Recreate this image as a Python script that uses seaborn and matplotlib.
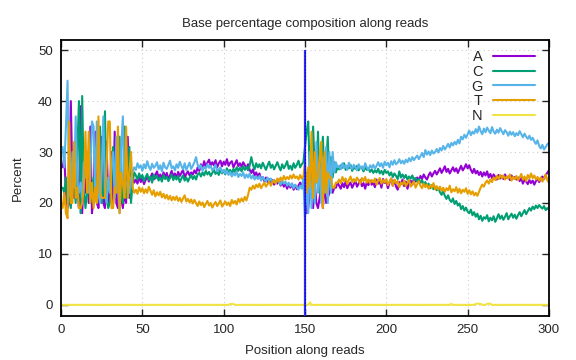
import numpy as np
import pandas as pd
import seaborn as sns
import matplotlib
matplotlib.use("Agg")
import matplotlib.pyplot as plt
from matplotlib.lines import Line2D

# base percentage per read position (1..300)
pct_A = [
    27, 29, 22, 19, 20, 40, 24, 21, 22, 23,
    19, 39, 18, 26, 22, 30, 20, 35, 18, 21,
    34, 20, 19, 23, 33, 20, 19, 32, 20, 22,
    30, 20, 34, 20, 19, 31, 21, 19, 22, 20,
    33, 21, 23, 25, 24, 24.6, 23.8, 25.2, 24.1, 24.9,
    23.7, 24.5, 25.3, 24.2, 25.0, 25.8, 24.6, 25.5, 26.2, 24.9,
    25.6, 24.8, 26.0, 25.1, 25.9, 24.7, 25.4, 26.3, 25.2, 25.8,
    24.9, 26.1, 25.3, 25.9, 26.5, 25.0, 25.7, 26.2, 25.4, 26.0,
    25.6, 26.4, 25.8, 27.0, 26.3, 27.6, 26.8, 28.2, 27.1, 27.9,
    28.5, 27.3, 28.0, 27.4, 28.4, 27.0, 27.8, 28.3, 27.2, 28.1,
    27.5, 28.6, 27.3, 27.9, 28.2, 27.0, 27.7, 28.4, 27.2, 27.8,
    27.1, 28.0, 27.4, 26.8, 27.6, 26.5, 25.9, 26.6, 25.4, 26.0,
    25.2, 25.8, 24.6, 25.1, 24.3, 25.0, 24.1, 24.7, 23.9, 24.5,
    23.6, 24.3, 23.8, 24.6, 23.4, 24.1, 23.2, 23.9, 22.8, 23.7,
    23.0, 23.8, 22.6, 23.5, 22.7, 23.4, 24.0, 23.1, 24.5, 22,
    18, 19, 22, 25, 19, 24, 20, 19, 21, 23,
    19, 24, 20, 21, 22, 24, 22, 23, 23, 24,
    23.4, 22.8, 23.9, 23.1, 24.2, 22.9, 23.6, 24.0, 23.0, 23.7,
    24.3, 23.2, 23.8, 24.5, 23.3, 23.9, 22.8, 24.1, 23.5, 24.4,
    23.6, 24.0, 23.1, 24.6, 23.8, 24.2, 23.0, 24.7, 23.9, 24.3,
    22.9, 24.0, 24.8, 23.4, 24.5, 23.2, 22.6, 24.1, 23.7, 24.6,
    23.3, 24.2, 22.8, 23.9, 24.4, 23.6, 24.8, 24.2, 25.0, 24.5,
    25.3, 24.7, 25.6, 25.0, 24.6, 25.4, 26.0, 25.2, 25.8, 26.3,
    25.6, 26.2, 26.8, 25.9, 26.5, 27.2, 26.1, 26.7, 25.8, 26.4,
    27.0, 26.2, 26.8, 25.9, 26.6, 27.3, 26.4, 26.9, 27.6, 26.8,
    27.4, 26.5, 25.9, 26.7, 25.8, 26.3, 25.5, 26.1, 25.2, 26.0,
    25.4, 26.2, 25.0, 25.7, 24.9, 25.6, 25.1, 24.6, 25.5, 24.8,
    25.3, 24.7, 25.6, 24.9, 25.2, 24.5, 25.4, 24.8, 25.1, 24.6,
    25.0, 24.3, 24.9, 23.8, 24.6, 24.2, 23.7, 24.5, 23.9, 24.4,
    23.6, 24.3, 24.8, 24.1, 24.9, 25.2, 24.7, 25.5, 25.9, 26.4,
]

pct_C = [
    23, 22, 25, 20, 22, 19, 26, 24, 20, 30,
    40, 18, 41, 23, 19, 22, 24, 20, 22, 25,
    21, 24, 22, 35, 20, 22, 38, 21, 19, 20,
    24, 31, 22, 25, 23, 33, 22, 20, 35, 21,
    22, 31, 20, 24, 26, 25.4, 24.6, 25.8, 24.9, 25.5,
    24.3, 25.1, 25.7, 24.5, 25.2, 24.0, 25.6, 24.8, 25.3, 24.4,
    25.0, 24.2, 25.5, 24.7, 25.1, 24.3, 24.9, 25.6, 24.5, 25.2,
    24.6, 25.3, 24.1, 24.8, 25.4, 24.4, 25.0, 24.2, 24.9, 25.5,
    24.7, 25.3, 24.6, 25.6, 25.9, 25.2, 26.0, 25.4, 26.3, 25.6,
    26.1, 25.3, 25.9, 26.5, 25.7, 26.2, 25.5, 26.6, 25.8, 26.4,
    25.6, 26.8, 26.0, 26.5, 25.8, 26.7, 26.1, 27.0, 26.3, 26.9,
    26.2, 27.2, 26.5, 27.1, 26.4, 27.4, 29.0, 27.5, 26.6, 27.8,
    27.0, 27.6, 26.8, 27.9, 27.2, 26.5, 27.4, 28.1, 26.9, 27.5,
    26.6, 27.3, 28.0, 27.1, 26.4, 27.6, 26.8, 27.4, 28.2, 26.7,
    27.3, 26.5, 27.8, 26.9, 27.5, 28.3, 27.0, 27.6, 28.0, 31,
    34, 36, 25, 22, 35, 26, 24, 34, 22, 28,
    33, 24, 27, 33, 23, 29, 25, 28, 26, 27,
    26.6, 27.4, 26.9, 27.8, 26.5, 27.2, 26.8, 27.5, 26.3, 27.0,
    26.7, 27.3, 26.4, 27.1, 26.9, 26.2, 27.0, 26.5, 26.8, 26.1,
    26.6, 25.9, 26.4, 26.0, 26.7, 25.8, 26.3, 25.6, 26.5, 25.9,
    26.2, 25.4, 26.0, 25.1, 25.8, 25.3, 24.7, 26.2, 25.0, 25.6,
    24.9, 25.5, 24.6, 25.2, 24.8, 25.4, 24.5, 24.9, 24.2, 24.7,
    23.9, 24.5, 23.6, 24.1, 23.3, 23.8, 22.9, 23.5, 22.7, 23.2,
    22.5, 22.9, 22.1, 21.6, 22.3, 21.4, 20.8, 21.5, 20.6, 20.2,
    20.9, 19.8, 20.4, 19.5, 19.9, 18.8, 19.4, 18.5, 19.1, 18.3,
    18.0, 18.7, 17.6, 18.2, 17.3, 17.9, 16.8, 17.5, 16.5, 17.2,
    16.9, 17.6, 16.4, 17.1, 16.6, 17.4, 16.3, 17.0, 17.8, 16.9,
    17.5, 16.7, 17.3, 18.0, 16.8, 17.4, 17.9, 17.1, 17.7, 16.9,
    17.6, 18.2, 17.4, 18.0, 18.6, 17.8, 18.4, 19.0, 18.5, 19.3,
    18.8, 19.5, 19.0, 19.6, 19.2, 18.9, 19.4, 18.6, 19.0, 18.7,
]

pct_G = [
    31, 27, 35, 44, 22, 21, 30, 23, 37, 24,
    22, 24, 21, 28, 25, 26, 22, 25, 36, 35,
    22, 36, 22, 20, 26, 37, 22, 20, 25, 22,
    27, 30, 21, 33, 23, 18, 31, 37, 22, 24,
    24, 22, 25, 26, 27, 26.5, 27.8, 26.9, 27.4, 26.3,
    27.6, 26.8, 28.2, 27.1, 26.5, 27.7, 26.9, 27.3, 28.0, 26.6,
    27.4, 26.2, 27.9, 27.0, 26.7, 27.5, 28.3, 26.8, 27.2, 26.4,
    27.6, 26.9, 28.1, 27.3, 26.6, 27.8, 26.5, 27.2, 27.9, 26.7,
    27.3, 28.0, 29.0, 27.5, 26.8, 27.4, 26.3, 27.1, 26.7, 27.6,
    26.9, 27.3, 26.4, 26.8, 27.5, 26.2, 26.6, 27.0, 26.0, 26.5,
    25.8, 26.3, 25.5, 26.1, 25.2, 25.9, 25.4, 26.2, 25.1, 25.7,
    25.3, 26.0, 24.9, 25.6, 25.0, 25.8, 24.8, 25.4, 24.6, 25.2,
    24.7, 25.3, 24.4, 25.1, 24.6, 24.2, 25.0, 24.3, 24.8, 24.0,
    24.5, 23.9, 24.7, 24.1, 23.6, 24.4, 23.8, 24.2, 23.4, 24.0,
    23.3, 23.8, 22.9, 23.6, 23.1, 22.6, 23.4, 22.8, 24.8, 17,
    26, 18, 30, 19, 25, 20, 32, 22, 28, 20,
    29, 22, 31, 20, 30, 22, 30, 26, 28, 27,
    27.3, 26.6, 27.8, 26.9, 27.4, 26.5, 27.9, 27.1, 26.7, 27.5,
    27.0, 26.4, 27.6, 26.8, 27.2, 26.6, 27.8, 27.0, 26.5, 27.4,
    26.9, 27.5, 26.7, 27.3, 28.0, 27.2, 27.8, 26.9, 28.1, 27.4,
    27.9, 27.0, 28.2, 27.5, 28.4, 27.6, 27.9, 28.6, 27.8, 28.3,
    27.7, 28.5, 28.0, 28.8, 28.2, 29.0, 28.4, 28.9, 29.3, 28.6,
    29.2, 29.8, 29.0, 30.4, 29.5, 30.1, 29.4, 30.3, 29.7, 30.0,
    30.6, 29.9, 30.8, 30.3, 31.2, 30.5, 31.0, 31.6, 30.9, 31.8,
    31.3, 32.0, 31.5, 32.4, 31.7, 33.0, 32.5, 33.4, 32.8, 33.5,
    34.2, 33.3, 34.0, 33.6, 34.5, 33.8, 35.0, 34.1, 33.5, 34.6,
    33.9, 34.8, 34.2, 33.7, 34.9, 34.0, 33.6, 34.4, 33.8, 34.7,
    34.1, 33.5, 34.3, 33.9, 33.2, 34.0, 33.4, 33.9, 33.1, 33.7,
    33.3, 34.1, 33.5, 32.9, 33.6, 33.0, 32.6, 33.2, 32.4, 32.8,
    32.1, 31.6, 32.3, 31.2, 30.7, 31.4, 30.5, 31.0, 31.5, 31.8,
]

pct_T = [
    19, 22, 18, 17, 36, 20, 20, 32, 21, 23,
    19, 19, 20, 23, 34, 22, 34, 20, 24, 19,
    23, 20, 37, 22, 21, 21, 21, 27, 36, 36,
    19, 19, 23, 22, 35, 18, 26, 24, 21, 35,
    21, 26, 30, 23, 22, 22.6, 21.8, 23.1, 22.2, 22.9,
    21.9, 22.7, 22.0, 23.2, 22.4, 21.6, 22.5, 21.3, 22.1, 21.5,
    22.2, 21.1, 21.8, 20.9, 21.6, 20.7, 21.4, 20.5, 21.2, 20.6,
    21.3, 20.4, 21.0, 20.2, 20.9, 21.5, 20.3, 20.8, 20.1, 20.7,
    19.9, 20.6, 20.0, 19.4, 20.3, 19.6, 20.1, 19.2, 19.8, 20.4,
    19.5, 20.0, 19.1, 19.7, 20.2, 19.4, 19.9, 20.5, 19.3, 19.8,
    20.3, 19.6, 20.1, 19.4, 20.6, 19.9, 20.4, 19.7, 20.8, 20.2,
    20.9, 20.3, 21.2, 20.5, 21.6, 23.0, 22.6, 23.4, 22.8, 23.6,
    23.1, 23.8, 22.9, 23.5, 24.0, 23.2, 23.7, 24.2, 23.4, 24.0,
    24.5, 23.8, 24.8, 24.2, 25.0, 24.4, 25.3, 24.6, 25.1, 24.7,
    25.4, 24.8, 25.6, 24.9, 25.2, 24.6, 25.5, 24.8, 25.2, 28,
    22, 27, 23, 34, 21, 30, 24, 25, 29, 32,
    19, 30, 22, 26, 25, 25, 23, 23, 24, 24,
    24.6, 23.9, 25.1, 24.3, 24.8, 23.7, 24.5, 25.2, 24.1, 24.7,
    24.2, 25.0, 24.4, 23.8, 24.9, 24.3, 25.1, 24.0, 24.6, 23.9,
    24.5, 24.1, 24.8, 23.6, 24.4, 24.9, 23.8, 24.5, 24.0, 24.7,
    23.5, 24.2, 24.8, 23.4, 24.6, 23.9, 24.3, 23.1, 24.0, 23.6,
    24.4, 23.3, 23.9, 24.5, 23.2, 23.8, 24.2, 23.0, 23.7, 24.3,
    23.4, 22.9, 23.8, 23.1, 23.6, 22.8, 23.5, 23.0, 23.9, 22.7,
    23.3, 22.6, 23.2, 22.4, 23.0, 22.2, 22.9, 22.5, 23.4, 22.1,
    22.7, 22.3, 23.1, 22.0, 22.8, 21.9, 22.6, 22.2, 22.9, 21.8,
    22.5, 21.7, 22.3, 21.5, 22.0, 21.4, 22.2, 23.0, 23.6, 23.2,
    24.0, 24.4, 23.8, 24.6, 24.1, 25.0, 24.5, 25.3, 24.7, 25.5,
    24.9, 25.4, 24.6, 25.2, 24.8, 25.6, 24.4, 25.1, 24.7, 25.3,
    24.5, 25.0, 25.7, 24.6, 25.2, 24.3, 25.5, 24.8, 25.8, 24.9,
    25.4, 24.6, 25.1, 24.4, 25.0, 24.2, 24.8, 25.6, 24.5, 24.0,
]

pct_N = [
    0, 0, 0, 0, 0, 0, 0, 0, 0, 0,
    0, 0, 0, 0, 0, 0, 0, 0, 0, 0,
    0, 0, 0, 0, 0, 0, 0, 0, 0, 0,
    0, 0, 0, 0, 0, 0, 0, 0, 0, 0,
    0, 0, 0, 0, 0, 0, 0, 0, 0, 0,
    0, 0, 0, 0, 0, 0, 0, 0, 0, 0,
    0, 0, 0, 0, 0, 0, 0, 0, 0, 0,
    0, 0, 0, 0, 0, 0, 0, 0, 0, 0,
    0, 0, 0, 0, 0, 0, 0, 0, 0, 0,
    0, 0, 0, 0, 0, 0, 0, 0, 0, 0,
    0, 0, 0, 0.15, 0.2, 0.15, 0, 0, 0, 0,
    0, 0, 0, 0, 0, 0, 0, 0, 0, 0,
    0, 0, 0, 0, 0, 0, 0, 0, 0, 0,
    0, 0, 0, 0, 0, 0, 0, 0, 0, 0,
    0, 0, 0, 0, 0, 0, 0, 0, 0, 0,
    0, 0, 0.5, 0, 0, 0, 0, 0, 0, 0,
    0, 0, 0, 0, 0, 0, 0, 0, 0, 0,
    0, 0, 0, 0, 0, 0, 0, 0, 0, 0,
    0, 0, 0, 0, 0, 0, 0, 0, 0, 0,
    0, 0, 0, 0, 0, 0, 0, 0, 0, 0,
    0, 0, 0, 0, 0, 0, 0, 0, 0, 0,
    0, 0, 0, 0, 0, 0, 0, 0, 0, 0,
    0, 0, 0, 0, 0, 0, 0, 0, 0, 0,
    0, 0, 0, 0, 0, 0, 0, 0, 0, 0.2,
    0, 0, 0, 0, 0, 0, 0, 0, 0, 0,
    0, 0, 0, 0, 0.2, 0.25, 0.2, 0.2, 0, 0,
    0, 0.2, 0.25, 0.2, 0, 0, 0, 0, 0, 0,
    0, 0, 0, 0, 0, 0, 0, 0, 0, 0,
    0, 0, 0, 0, 0, 0, 0, 0, 0, 0,
    0, 0, 0, 0, 0, 0, 0, 0, 0, 0,
]

bases = ["A", "C", "G", "T", "N"]
colors = ["#9400d3", "#009e73", "#56b4e9", "#e69f00", "#f0e442"]
read_len_mark = 150

series = [pct_A, pct_C, pct_G, pct_T, pct_N]
frames = []
for b, vals in zip(bases, series):
    frames.append(pd.DataFrame({"pos": np.arange(1, len(vals) + 1), "pct": vals, "base": b}))
df = pd.concat(frames, ignore_index=True)

sns.set_style("ticks")
plt.rcParams["font.family"] = ["Liberation Sans", "DejaVu Sans"]
plt.rcParams["font.size"] = 9.5

fig = plt.figure(figsize=(5.76, 3.6), dpi=100)
ax = fig.add_axes([0.106, 0.122, 0.847, 0.767])

ax.grid(True, color="#cccccc", linestyle=(0, (1, 3)), linewidth=0.8)
sns.lineplot(data=df, x="pos", y="pct", hue="base", hue_order=bases,
             palette=dict(zip(bases, colors)), linewidth=1.5, ax=ax, legend=False)

# marker line at the read-length boundary
ax.vlines(read_len_mark, -3, 50, color="#2a2aff", linewidth=1.6, zorder=5)
ax.vlines(read_len_mark, -3, 50, color="#0000a0", linewidth=0.6,
          linestyles=(0, (2, 2)), zorder=6)

ax.set_xlim(0, 300)
ax.set_ylim(-2.2, 52)
ax.set_xticks([0, 50, 100, 150, 200, 250, 300])
ax.set_yticks([0, 10, 20, 30, 40, 50])
ax.tick_params(direction="in", length=5, width=1, top=True, right=True, labelsize=9.5, pad=6)
for s in ax.spines.values():
    s.set_linewidth(1.3)
    s.set_color("black")

ax.set_xlabel("Position along reads", fontsize=9.5, labelpad=6)
ax.set_ylabel("Percent", fontsize=9.5, labelpad=10)
ax.set_title("Base percentage composition along reads", fontsize=9.5, pad=9)

handles = [Line2D([0], [0], color=c, linewidth=1.5) for c in colors]
ax.legend(handles, bases, loc="upper right", bbox_to_anchor=(0.99, 0.995),
          markerfirst=False, frameon=False, handlelength=2.9, handletextpad=0.7,
          labelspacing=0.05, fontsize=10.5, borderaxespad=0.2)

fig.savefig("out.png", dpi=100)
